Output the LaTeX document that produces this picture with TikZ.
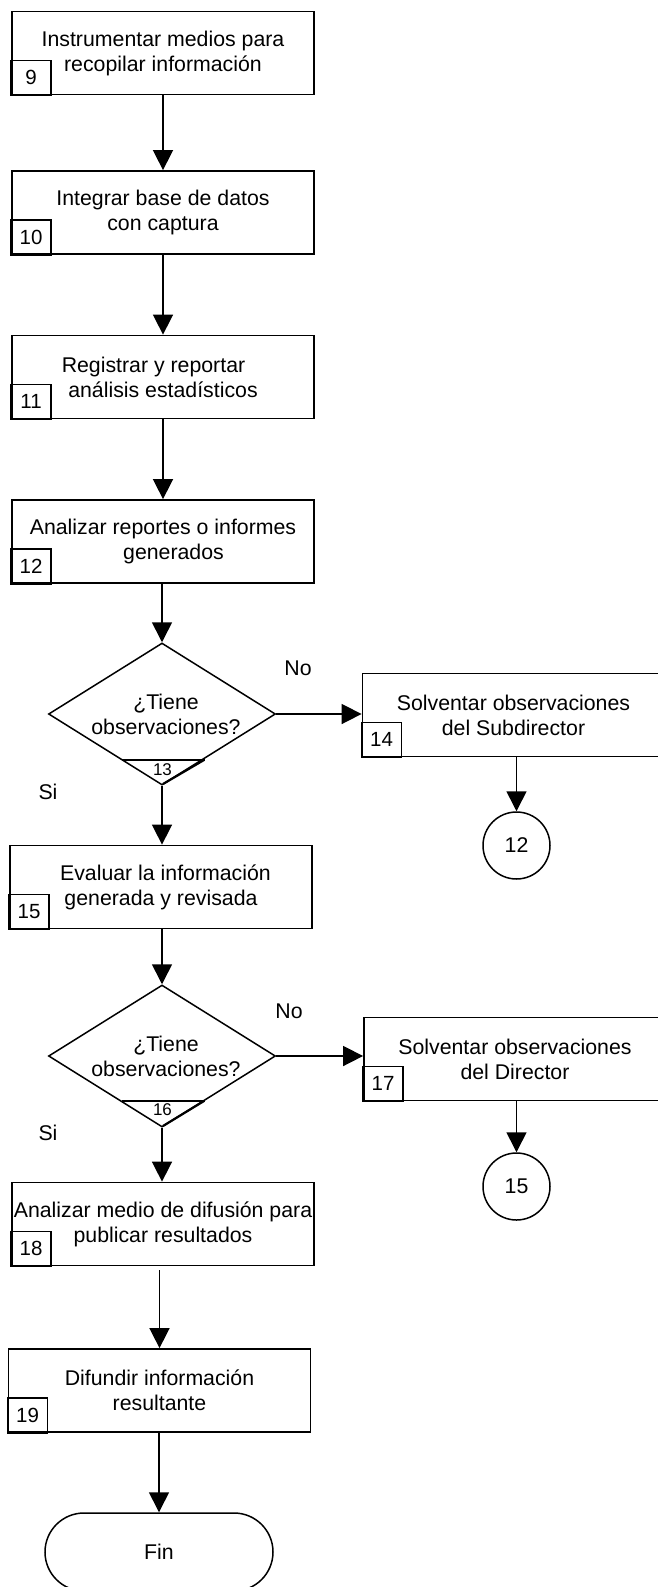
\documentclass[tikz,border=0pt]{standalone}
\usepackage{fontspec}
\setmainfont{Liberation Sans}
\usetikzlibrary{shapes.geometric,shapes.misc,arrows.meta,calc}

\begin{document}
\begin{tikzpicture}[x=1pt,y=-1pt,
  every node/.style={font=\fontsize{21.3}{25}\selectfont},
  proc/.style={draw, line width=1.8pt, rectangle, minimum width=302pt,
    minimum height=83pt, inner sep=0pt, align=center},
  numbox/.style={draw, line width=1.5pt, rectangle, minimum width=40pt,
    minimum height=35pt, inner sep=0pt, outer sep=0pt, anchor=south west,
    font=\fontsize{20.5}{24}\selectfont},
  decision/.style={draw, line width=1.5pt, diamond, minimum width=227pt,
    minimum height=142pt, inner sep=0pt},
  dectext/.style={align=center, inner sep=0pt},
  decnum/.style={font=\fontsize{17}{20}\selectfont, inner sep=0pt},
  connector/.style={draw, line width=1.5pt, circle, minimum size=67pt, inner sep=0pt},
  terminal/.style={draw, line width=1.5pt, rounded rectangle, minimum width=228pt,
    minimum height=78pt, inner sep=0pt},
  flow/.style={line width=1.6pt, -{Triangle[length=20pt,width=20pt]}},
  branch/.style={inner sep=0pt}
]
\useasboundingbox[fill=white] (0,0) rectangle (658,1587);
\clip (0,0) rectangle (658,1587);

% main column of activities
\node[proc] (b9)  at (163,53)    {Instrumentar medios para\\recopilar información};
\node[numbox] (n9) at (b9.south west) {9};
\node[proc] (b10) at (163,212.5) {Integrar base de datos\\con captura};
\node[numbox] (n10) at (b10.south west) {10};
\node[proc] (b11) at (163,377)   {Registrar y reportar\hspace*{19pt}\\análisis estadísticos};
\node[numbox] (n11) at (b11.south west) {11};
\node[proc] (b12) at (163,541.5) {Analizar reportes o informes\\\hspace*{21pt}generados};
\node[numbox] (n12) at (b12.south west) {12};

% first decision
\node[decision] (d13) at (162,714) {};
\node[dectext] (t13) at ($(d13.center)+(4,0)$) {¿Tiene\\observaciones?};
\draw[line width=1.3pt] ($(d13.center)+(-40,46)$) -- ($(d13.center)+(43,46)$);
\draw[line width=2.2pt] ($(d13.center)+(42,46)$) -- ($(d13.center)+(1,70)$);
\node[decnum] (k13) at ($(d13.center)+(0.5,56)$) {13};
\node[branch] (no13) at (298,668) {No};
\node[branch] (si13) at (48,792) {Si};

\node[proc] (b14) at (513.5,715) {Solventar observaciones\\del Subdirector};
\node[numbox] (n14) at (b14.south west) {14};
\node[connector] (c12) at (516.5,845.5) {12};

\node[proc] (b15) at (161,887) {\hspace*{9pt}Evaluar la información\\generada y revisada};
\node[numbox] (n15) at (b15.south west) {15};

% second decision
\node[decision] (d16) at (162,1056) {};
\node[dectext] (t16) at ($(d16.center)+(4,0)$) {¿Tiene\\observaciones?};
\draw[line width=1.3pt] ($(d16.center)+(-40,45)$) -- ($(d16.center)+(43,45)$);
\draw[line width=2.2pt] ($(d16.center)+(42,45)$) -- ($(d16.center)+(1,70)$);
\node[decnum] (k16) at ($(d16.center)+(0.5,54)$) {16};
\node[branch] (no16) at (289,1011) {No};
\node[branch] (si16) at (48,1133) {Si};

\node[proc] (b17) at (515,1059) {Solventar observaciones\\del Director};
\node[numbox] (n17) at (b17.south west) {17};
\node[connector] (c15) at (516.5,1186.5) {15};

\node[proc] (b18) at (163,1224)   {Analizar medio de difusión para\\publicar resultados};
\node[numbox] (n18) at (b18.south west) {18};
\node[proc] (b19) at (159.5,1390.5) {Difundir información\\resultante};
\node[numbox] (n19) at (b19.south west) {19};

\node[terminal] (fin) at (159,1552) {Fin};

% connectors
\draw[flow] (b9.south) -- (b10.north);
\draw[flow] (b10.south) -- (b11.north);
\draw[flow] (b11.south) -- (b12.north);
\draw[flow] (d13.north |- b12.south) -- (d13.north);
\draw[flow] (d13.east) -- (d13.east -| b14.west);
\draw[flow] (c12.north |- b14.south) -- (c12.north);
\draw[flow] (d13.south) -- (d13.south |- b15.north);
\draw[flow] (d16.north |- b15.south) -- (d16.north);
\draw[flow] (d16.east) -- (d16.east -| b17.west);
\draw[flow] (c15.north |- b17.south) -- (c15.north);
\draw[flow] (d16.south) -- (d16.south |- b18.north);
\draw[flow, shorten <=4pt] (b19.north |- b18.south) -- (b19.north);
\draw[flow] (fin.north |- b19.south) -- (fin.north);
\end{tikzpicture}
\end{document}
